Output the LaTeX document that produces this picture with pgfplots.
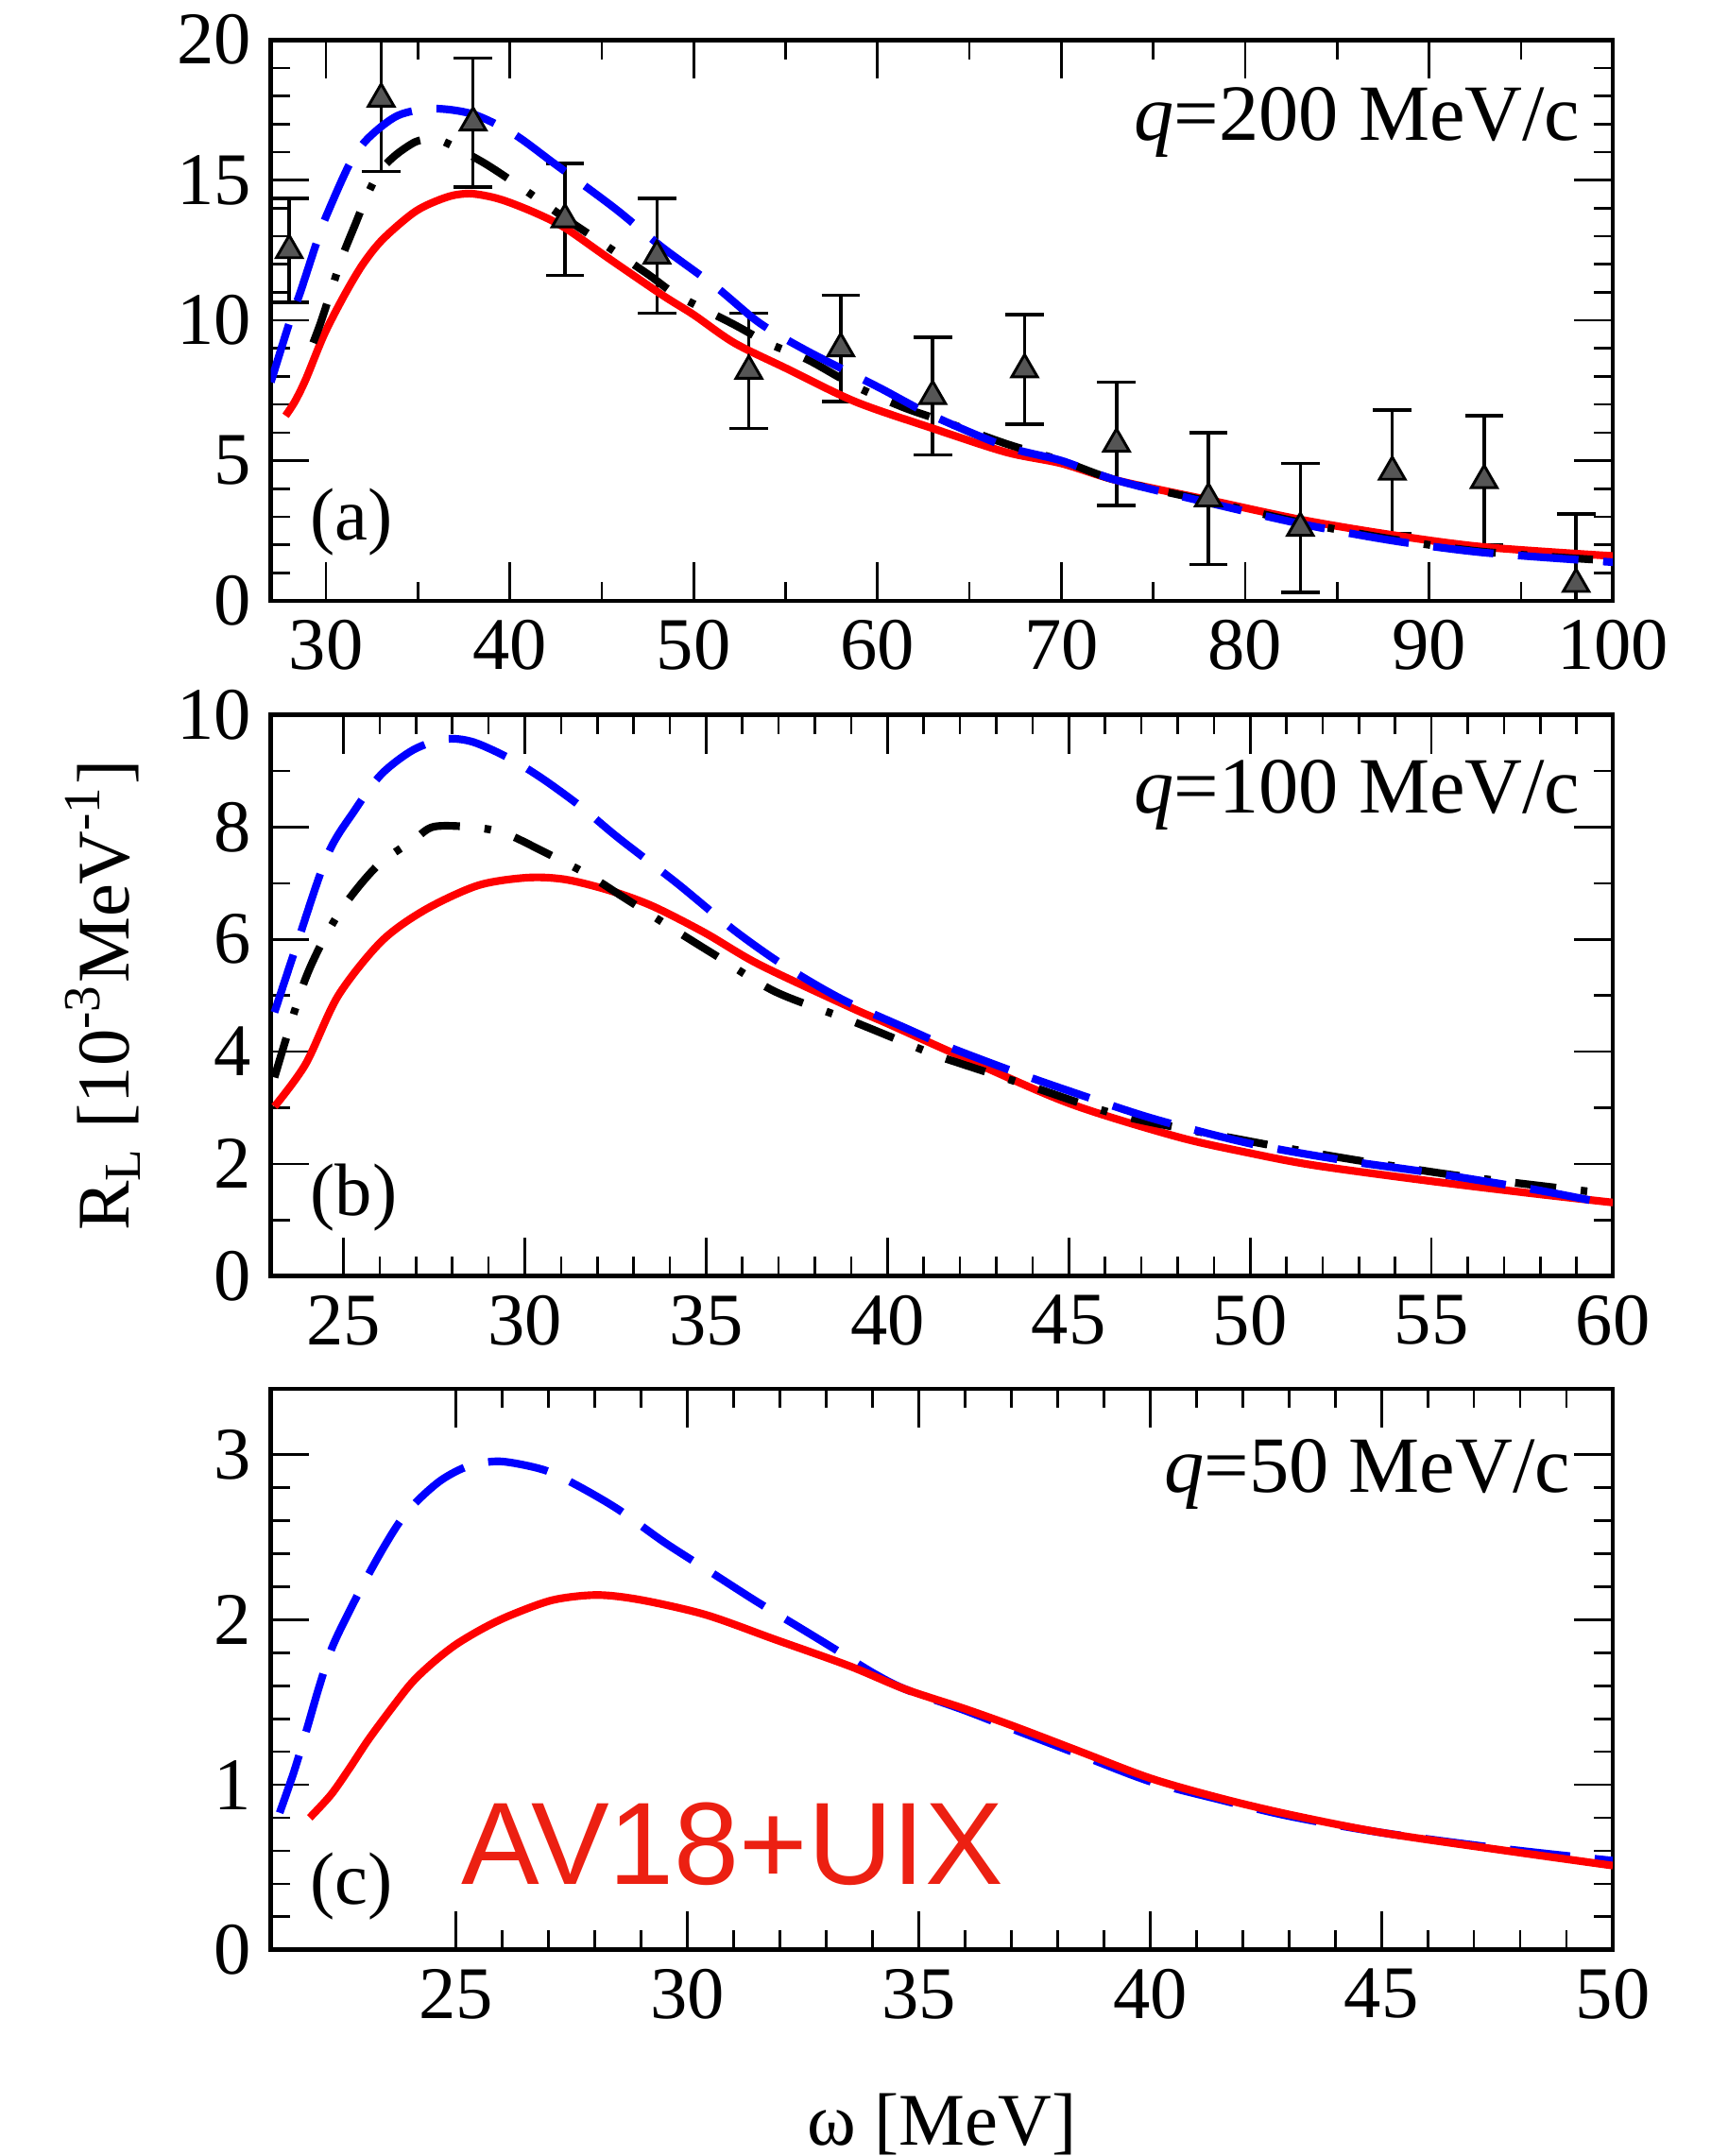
\documentclass[border=0pt]{standalone}
\usepackage{fontspec}
\setmainfont{Liberation Serif}
\newfontfamily\labelsans{Liberation Sans}
\usepackage{pgfplots}
\usepackage{pgfplotstable}
\pgfplotsset{compat=1.18}

\definecolor{avred}{RGB}{236,32,18}
\definecolor{trigray}{RGB}{85,85,85}

% ---------- q = 200 MeV/c ----------
\pgfplotstableread{
x y e
28 12.5 1.85
33 17.9 2.6
38 17.05 2.3
43 13.6 2.0
48 12.3 2.05
53 8.2 2.05
58 9.0 1.9
63 7.3 2.1
68 8.25 1.95
73 5.6 2.2
78 3.65 2.35
83 2.6 2.3
88 4.6 2.2
93 4.3 2.3
98 0.6 2.5
}\dataA

\pgfplotstableread{
x y
27.8 6.6
28.3 7.1
28.9 7.9
29.9 9.5
31.0 10.9
32.0 12.0
33.1 12.9
34.9 13.9
36.6 14.4
37.8 14.52
39.0 14.4
40.0 14.2
41.5 13.8
43.0 13.3
45.4 12.2
48.3 10.9
50.0 10.2
52.2 9.2
55.0 8.3
58.8 7.1
63.0 6.15
67.0 5.3
70.0 4.9
73.0 4.3
78.0 3.6
83.0 2.9
88.0 2.35
93.0 1.92
100 1.6
}\redA

\pgfplotstableread{
x y
27.0 7.8
28.0 9.9
28.6 11.0
29.5 12.8
30.0 13.7
31.3 15.6
32.3 16.5
33.9 17.3
35.8 17.55
38.0 17.35
40.2 16.65
42.4 15.6
45.7 14.0
48.3 12.6
51.2 11.2
53.6 9.9
56.2 8.9
60.1 7.6
63.0 6.6
67.0 5.5
70.0 5.0
73.0 4.3
78.0 3.5
83.0 2.75
88.0 2.15
93.0 1.72
100 1.38
}\blueA

\pgfplotstableread{
x y
29.3 9.2
29.7 9.9
30.2 10.9
30.9 12.3
31.6 13.44
32.2 14.4
32.9 15.3
33.8 15.9
34.85 16.36
35.6 16.45
36.44 16.36
38.42 15.68
39.9 15.06
41.4 14.38
43.1 13.6
44.7 12.9
47.5 11.65
49.1 10.9
52.2 9.85
54.1 9.17
56.2 8.6
58.8 7.65
61.4 6.9
63.6 6.4
67.0 5.6
70.0 5.0
73.0 4.3
78.0 3.55
83.0 2.8
88.0 2.2
93.0 1.75
100 1.43
}\blackA

% ---------- q = 100 MeV/c ----------
\pgfplotstableread{
x y
23.1 3.02
23.96 3.78
24.85 4.99
26.04 5.96
27.23 6.52
28.7 6.96
30.05 7.1
31.1 7.07
32.3 6.88
33.5 6.6
34.96 6.12
36.44 5.56
38.94 4.8
40 4.5
42 3.92
45 3.08
48 2.48
50 2.19
51.8 1.97
55 1.69
57.8 1.47
60 1.31
}\redB

\pgfplotstableread{
x y
23.1 4.7
23.66 5.8
24.55 7.49
25.3 8.29
26.04 8.94
26.93 9.38
27.8 9.57
28.57 9.52
29.6 9.22
30.5 8.86
31.54 8.37
32.58 7.81
34.2 7.0
35.7 6.2
36.9 5.64
38.0 5.2
39.0 4.85
40.5 4.42
41.7 4.08
43.5 3.64
45 3.3
47.3 2.81
50 2.36
52.6 2.06
55 1.84
57.85 1.54
60 1.27
}\blueB

\pgfplotstableread{
x y
23.1 3.54
23.96 5.31
24.85 6.44
25.9 7.29
26.93 7.77
27.5 8.01
28.57 8.0
29.46 7.89
30.5 7.57
31.7 7.17
32.7 6.76
34.06 6.2
35.25 5.72
36.9 5.07
39.0 4.55
41.2 3.97
42 3.79
44 3.37
46.5 2.85
50 2.4
52.6 2.1
55.6 1.8
58.5 1.57
60 1.46
}\blackB

% ---------- q = 50 MeV/c ----------
\pgfplotstableread{
x y
21.84 0.80
22.3 0.94
22.7 1.1
23.1 1.27
23.6 1.46
24.05 1.62
24.5 1.74
25.0 1.85
25.6 1.95
26.2 2.03
27.1 2.12
28.05 2.15
29.0 2.12
30.4 2.03
31.9 1.88
33.5 1.72
34.7 1.58
36.0 1.46
37.1 1.35
38.5 1.2
40 1.04
41.5 0.92
43 0.82
45 0.71
47.7 0.6
50 0.51
}\redC

\pgfplotstableread{
x y
21.19 0.83
21.5 1.08
21.77 1.33
22.05 1.6
22.35 1.85
22.93 2.18
23.4 2.42
23.8 2.6
24.2 2.73
24.7 2.85
25.26 2.93
25.95 2.96
26.88 2.91
27.58 2.82
28.5 2.67
29.5 2.47
30.5 2.29
31.5 2.11
32.5 1.94
33.2 1.82
34.0 1.68
34.7 1.58
36.0 1.45
37.1 1.33
38.5 1.18
40 1.02
41.5 0.91
43 0.81
45 0.71
47.7 0.61
50 0.54
}\blueC

\pgfplotsset{
  rlpanel/.style={
    scale only axis,
    width=244pt, height=102pt,
    axis line style={line width=0.8pt},
    every tick/.style={black, line width=0.45pt},
    tick align=inside,
    major tick length=7pt,
    minor tick length=3.5pt,
    xtick pos=both, ytick pos=both,
    tick label style={font=\fontsize{13.5}{16}\selectfont},
    /pgf/number format/assume math mode=true,
    clip=true,
  },
  redcurve/.style={red, line width=1.4pt, smooth},
  bluecurve/.style={blue, line width=1.4pt, smooth, dash pattern=on 11pt off 4.5pt},
  blackcurve/.style={black, line width=1.4pt, smooth, dash pattern=on 7.5pt off 4.5pt on 1.2pt off 4.5pt},
}
\tikzset{
  panellabel/.style={inner sep=0pt, font=\fontsize{13.5}{16}\selectfont},
  qlabel/.style={inner sep=0pt, font=\fontsize{14.5}{17}\selectfont},
}

\begin{document}
\begin{tikzpicture}
\useasboundingbox (-49.25pt,-37.5pt) rectangle (261.75pt,354.5pt);

% (a) q = 200 MeV/c
\begin{axis}[rlpanel, at={(0pt,245.25pt)}, anchor=south west,
  xmin=27, xmax=100, ymin=0, ymax=20,
  xtick={30,40,...,100}, minor x tick num=1,
  ytick={0,5,...,20}, minor y tick num=4]
  \addplot[black, only marks, mark=triangle*, mark size=2.7pt,
    mark options={fill=trigray, draw=black, line width=0.5pt},
    error bars/.cd, y dir=both, y explicit,
    error bar style={line width=0.6pt, black},
    error mark options={rotate=90, mark size=3.5pt, line width=0.6pt, black}]
    table[x=x, y=y, y error=e] {\dataA};
  \addplot[redcurve] table[x=x, y=y] {\redA};
  \addplot[blackcurve] table[x=x, y=y] {\blackA};
  \addplot[bluecurve] table[x=x, y=y] {\blueA};
  \node[panellabel, anchor=west, xshift=7pt, yshift=14.25pt] at (rel axis cs:0,0) {(a)};
  \node[qlabel, anchor=east, xshift=-5.75pt, yshift=-15pt] at (rel axis cs:1,1) {\textit{q}=200 MeV/c};
\end{axis}

% (b) q = 100 MeV/c
\begin{axis}[rlpanel, at={(0pt,122.5pt)}, anchor=south west,
  xmin=23, xmax=60, ymin=0, ymax=10,
  xtick={25,30,...,60}, minor x tick num=4,
  ytick={0,2,...,10}, minor y tick num=1]
  \addplot[redcurve] table[x=x, y=y] {\redB};
  \addplot[blackcurve] table[x=x, y=y] {\blackB};
  \addplot[bluecurve] table[x=x, y=y] {\blueB};
  \node[panellabel, anchor=west, xshift=7pt, yshift=14.25pt] at (rel axis cs:0,0) {(b)};
  \node[qlabel, anchor=east, xshift=-5.75pt, yshift=-14.5pt] at (rel axis cs:1,1) {\textit{q}=100 MeV/c};
  \coordinate (bmid) at (rel axis cs:0,0.5);
\end{axis}

% (c) q = 50 MeV/c
\begin{axis}[rlpanel, at={(0pt,0pt)}, anchor=south west,
  xmin=21, xmax=50, ymin=0, ymax=3.4,
  xtick={25,30,...,50}, minor x tick num=4,
  ytick={0,1,2,3}, minor y tick num=4]
  \addplot[bluecurve] table[x=x, y=y] {\blueC};
  \addplot[redcurve] table[x=x, y=y] {\redC};
  \node[panellabel, anchor=west, xshift=7pt, yshift=11.5pt] at (rel axis cs:0,0) {(c)};
  \node[qlabel, anchor=east, xshift=-7.5pt, yshift=-15.5pt] at (rel axis cs:1,1) {\textit{q}=50 MeV/c};
  \node[inner sep=0pt, anchor=west, text=avred, font=\labelsans\fontsize{21.3}{24}\selectfont,
    xshift=34.5pt, yshift=19.25pt] at (rel axis cs:0,0) {AV18+UIX};
  \coordinate (cbot) at (rel axis cs:0.5,0);
\end{axis}

% axis titles
\node[panellabel, rotate=90] at ([xshift=-30.5pt]bmid)
  {R\textsubscript{L} [10\textsuperscript{-3}MeV\textsuperscript{-1}]};
\node[panellabel] at ([yshift=-31.75pt]cbot) {ω [MeV]};
\end{tikzpicture}
\end{document}
